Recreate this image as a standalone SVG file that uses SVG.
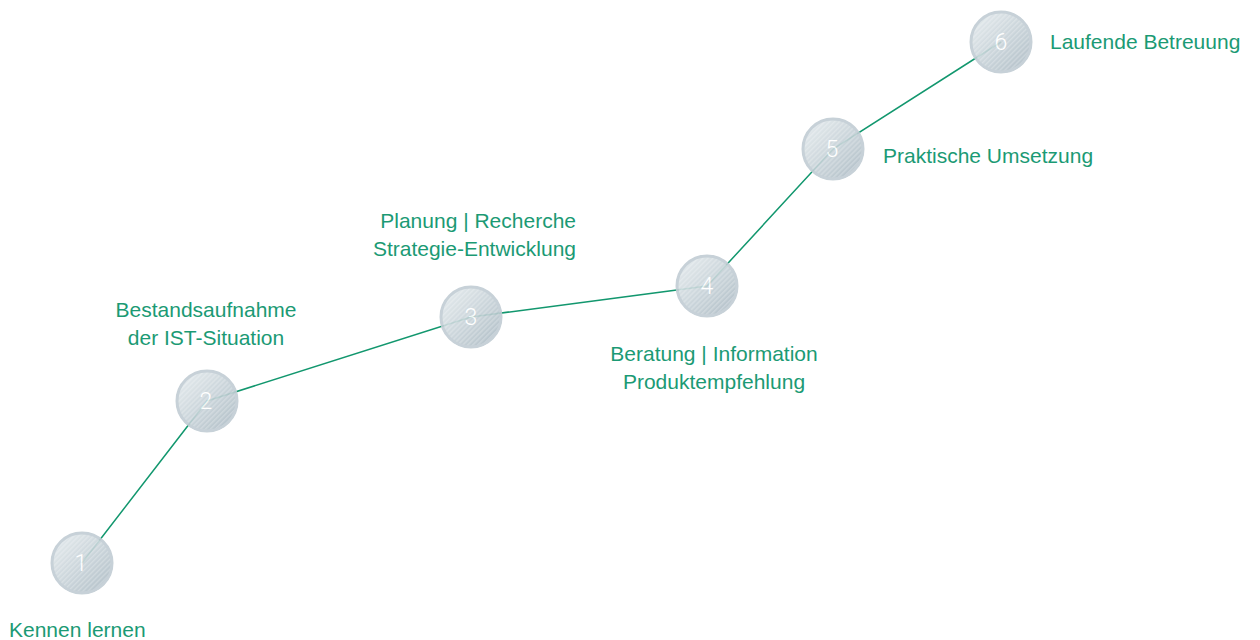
<svg xmlns="http://www.w3.org/2000/svg" width="1260" height="640" viewBox="0 0 1260 640">
<style>
.lbl{font-family:"Liberation Sans",Arial,sans-serif;font-size:21px;fill:#1b9a74}
.num{font-family:Roboto,"Liberation Sans",sans-serif;font-weight:300;font-size:23px;fill:#ffffff;text-anchor:middle}
.conn{stroke:#12976e;stroke-width:1.5;fill:none}
.ball{fill:url(#g)}
.stripe{fill:url(#st)}
.ring{fill:none;stroke:#c2cdd4;stroke-width:3}
.node{opacity:0.9}
</style>
<defs>
<linearGradient id="g" x1="0.1" y1="0.1" x2="0.9" y2="0.9">
<stop offset="0" stop-color="#e1e8eb"/>
<stop offset="1" stop-color="#adbcc5"/>
</linearGradient>
<pattern id="st" patternUnits="userSpaceOnUse" width="3.5" height="3.5" patternTransform="rotate(45)">
<rect x="0" y="0" width="1.4" height="3.5" fill="#ffffff" fill-opacity="0.25"/>
</pattern>
</defs>
<rect width="1260" height="640" fill="#ffffff"/>
<g id="connectors">
<polyline class="conn" points="82,563 207,401 471,317 707,286 833,149 1001,42"/>
</g>
<g id="node1" class="node"><circle class="ball" cx="82" cy="563" r="31"/><circle class="stripe" cx="82" cy="563" r="31"/><circle class="ring" cx="82" cy="563" r="30"/><text class="num" x="81" y="571">1</text></g>
<g id="node2" class="node"><circle class="ball" cx="207" cy="401" r="31"/><circle class="stripe" cx="207" cy="401" r="31"/><circle class="ring" cx="207" cy="401" r="30"/><text class="num" x="206" y="409">2</text></g>
<g id="node3" class="node"><circle class="ball" cx="471" cy="317" r="31"/><circle class="stripe" cx="471" cy="317" r="31"/><circle class="ring" cx="471" cy="317" r="30"/><text class="num" x="471" y="325">3</text></g>
<g id="node4" class="node"><circle class="ball" cx="707" cy="286" r="31"/><circle class="stripe" cx="707" cy="286" r="31"/><circle class="ring" cx="707" cy="286" r="30"/><text class="num" x="707" y="294">4</text></g>
<g id="node5" class="node"><circle class="ball" cx="833" cy="149" r="31"/><circle class="stripe" cx="833" cy="149" r="31"/><circle class="ring" cx="833" cy="149" r="30"/><text class="num" x="832" y="157">5</text></g>
<g id="node6" class="node"><circle class="ball" cx="1001" cy="42" r="31"/><circle class="stripe" cx="1001" cy="42" r="31"/><circle class="ring" cx="1001" cy="42" r="30"/><text class="num" x="1001" y="50">6</text></g>
<g id="labels">
<text class="lbl" x="9" y="637">Kennen lernen</text>
<text class="lbl" x="206" y="317" text-anchor="middle">Bestandsaufnahme</text>
<text class="lbl" x="206" y="345" text-anchor="middle">der IST-Situation</text>
<text class="lbl" x="576" y="228" text-anchor="end">Planung | Recherche</text>
<text class="lbl" x="576" y="256" text-anchor="end">Strategie-Entwicklung</text>
<text class="lbl" x="714" y="361" text-anchor="middle">Beratung | Information</text>
<text class="lbl" x="714" y="389" text-anchor="middle">Produktempfehlung</text>
<text class="lbl" x="883" y="163">Praktische Umsetzung</text>
<text class="lbl" x="1050" y="49">Laufende Betreuung</text>
</g>
</svg>
